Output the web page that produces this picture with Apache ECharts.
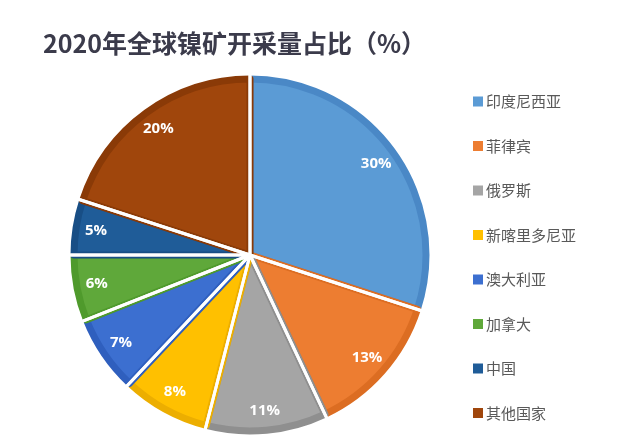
<!DOCTYPE html>
<html><head><meta charset="utf-8">
<script src="https://cdn.jsdelivr.net/npm/echarts@6/dist/echarts.min.js"></script>
<style>html,body{margin:0;padding:0;background:#fff}#c{width:640px;height:447px}</style>
</head><body><div id="c"></div>
<script>
const categories = ['印度尼西亚','菲律宾','俄罗斯','新喀里多尼亚','澳大利亚','加拿大','中国','其他国家'];
const values = [30,13,11,8,7,6,5,20];
const colors = ['#5b9bd5','#ed7d31','#a5a5a5','#ffc000','#3c6fd0','#5fa83a','#1f5c98','#a0460c'];
const darkColors = ['#4a88c6','#dc6d22','#8f8f8f','#ecae00','#2f5fbe','#4f9a2c','#184e85','#8a3a07'];

const chart = echarts.init(document.getElementById('c'));
const center = [250, 255];
chart.setOption({
  animation: false,
  title: {
    text: '2020年全球镍矿开采量占比（%）',
    left: 38, top: 26,
    textStyle: {fontFamily: 'Noto Sans CJK SC', fontSize: 25, fontWeight: 'bold', color: '#3b3b4b'}
  },
  legend: {
    orient: 'vertical', left: 468, top: 89,
    itemWidth: 10, itemHeight: 10, itemGap: 29.5,
    icon: 'rect',
    itemStyle: {borderWidth: 0},
    data: categories,
    textStyle: {fontFamily: 'Noto Sans CJK SC', fontSize: 15, color: '#595959', padding: [0,0,0,-2]}
  },
  series: [
    {
      type: 'pie', center: center, radius: [0, 176], startAngle: 90, clockwise: true,
      z: 2,
      data: categories.map((n,i)=>({name:n, value: values[i],
        itemStyle:{color: colors[i], borderColor: darkColors[i]}})),
      itemStyle: {borderWidth: 7, borderJoin: 'round'},
      label: {show: false}, labelLine: {show: false}, emphasis: {disabled: true}
    },
    {
      type: 'pie', center: center, radius: [0, 186], startAngle: 90, clockwise: true,
      z: 3, silent: true, legendHoverLink: false,
      data: categories.map((n,i)=>({name:n, value: values[i], itemStyle:{color: 'rgba(0,0,0,0)'}})),
      itemStyle: {borderColor: '#fff', borderWidth: 3},
      label: {show: false}, labelLine: {show: false}
    },
    {
      type: 'pie', center: center, radius: [126, 180], startAngle: 90, clockwise: true,
      z: 4, silent: true,
      data: categories.map((n,i)=>({name:n, value: values[i], itemStyle:{color: 'rgba(0,0,0,0)'}})),
      label: {show: true, position: 'inside', formatter: p => p.value + '%',
        color: '#fff', fontSize: 15, fontWeight: 'bold', fontFamily: 'Open Sans'},
      labelLine: {show: false}
    }
  ]
});
</script></body></html>
